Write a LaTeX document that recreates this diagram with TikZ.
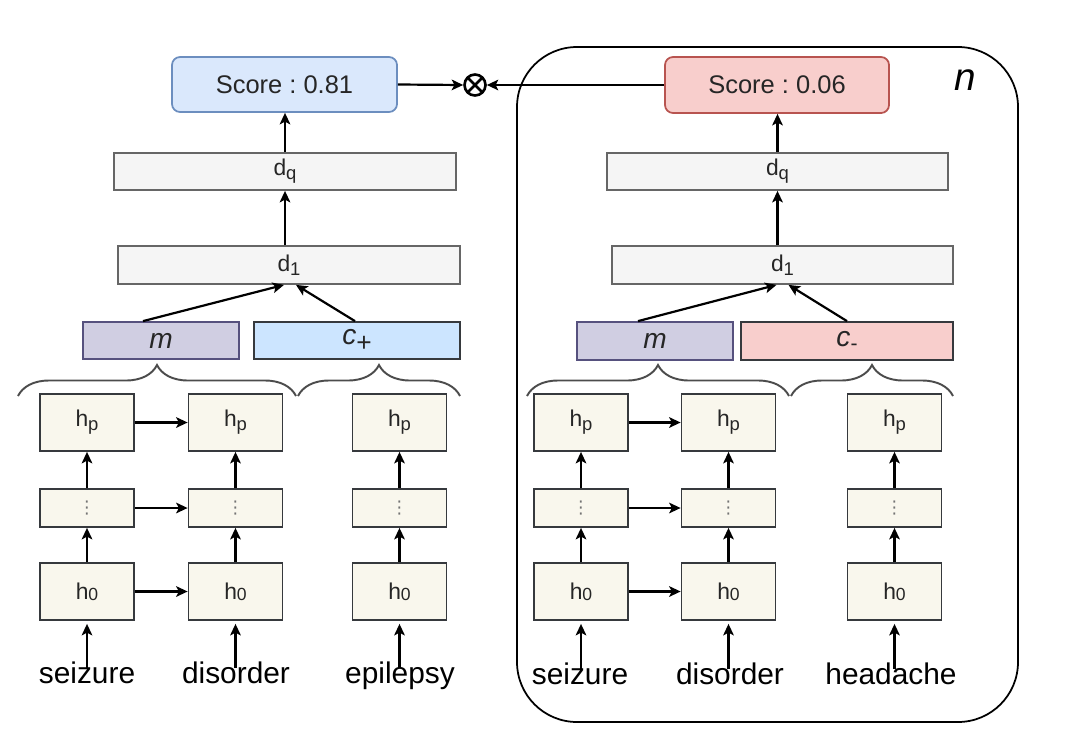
\documentclass[tikz,border=0pt]{standalone}
\usepackage{fontspec}
\setmainfont{Liberation Sans}
\newfontfamily\dejavu{DejaVu Sans}
\usetikzlibrary{arrows.meta,decorations.pathreplacing}
\newlength\pxu \setlength\pxu{0.02cm}
\frenchspacing
\definecolor{scoreB}{HTML}{DAE8FC}\definecolor{scoreBd}{HTML}{6C8EBF}
\definecolor{scoreR}{HTML}{F8CECC}\definecolor{scoreRd}{HTML}{B85450}
\definecolor{dfill}{HTML}{F5F5F5}\definecolor{dline}{HTML}{666666}
\definecolor{mfill}{HTML}{D0CEE2}\definecolor{mline}{HTML}{56517E}
\definecolor{cpfill}{HTML}{CCE5FF}\definecolor{dark}{HTML}{36393D}
\definecolor{hfill}{HTML}{F9F7ED}
\tikzset{
  sz/.style 2 args={minimum width=#1\pxu, minimum height=#2\pxu},
  bx/.style={draw, line width=1pt, inner sep=0pt, text=black!85},
  scorebox/.style={bx, rounded corners=8\pxu, font=\fontsize{14.5}{14.5}\selectfont},
  dbox/.style={bx, fill=dfill, draw=dline, font=\fontsize{13}{13}\selectfont},
  hbox/.style={bx, fill=hfill, draw=dark, sz={94}{57}, font=\fontsize{13}{13}\selectfont},
  dotbox/.style={bx, fill=hfill, draw=dark, sz={94}{38}},
  embox/.style={bx, sz={156}{37}, font=\fontsize{16}{16}\selectfont\itshape},
  word/.style={inner sep=1pt, text height=0.75em, text depth=0.2em, anchor=base, font=\fontsize{17}{17}\selectfont},
  arr/.style={-{Stealth[length=6.5pt,width=6pt,inset=1.5pt]}, line width=1.25pt},
  brc/.style={decorate, decoration={brace, amplitude=31\pxu}, line width=1.1pt, draw=black!70},
}
\newcommand\sub[1]{\raisebox{-0.35ex}{\fontsize{10.5}{10.5}\selectfont #1}}
\newcommand\vd{{\dejavu\color{black!55}\fontsize{10}{10}\selectfont ⋮}}
\newcommand\hz{h\raisebox{-0.1ex}{\fontsize{10}{10}\selectfont 0}}
\begin{document}
\begin{tikzpicture}[x=0.02cm, y=-0.02cm]
\useasboundingbox (0,0) rectangle (1074,754);
% container
\node[draw, line width=1pt, rounded corners=60\pxu, sz={501}{675}] (cont) at (767.5,384.5) {};
\node[font=\fontsize{22}{22}\selectfont\itshape] (n) at (965,80) {n};

% ---------- left ----------
\node[scorebox, fill=scoreB, draw=scoreBd, sz={225}{55}] (sL) at (284.5,84.5) {Score : 0.81};
\node[circle, draw, line width=1.5pt, minimum size=21\pxu, inner sep=0pt,
  path picture={\draw[line width=1.5pt] (path picture bounding box.south west) -- (path picture bounding box.north east)
  (path picture bounding box.north west) -- (path picture bounding box.south east);}] (ox) at (475,85) {};
\node[dbox, sz={342}{37}] (dqL) at (285,171.5) {d\sub{q}};
\node[dbox, sz={342}{38}] (d1L) at (289,265) {d\sub{1}};
\node[embox, fill=mfill, draw=mline] (mL) at (161,340.5) {m};
\node[embox, fill=cpfill, draw=dark, sz={206}{37}] (cL) at (357,340.5) {c\raisebox{-0.5ex}{\fontsize{15}{15}\selectfont\upshape +}};
\draw[brc] (18,396) -- (296,396);
\draw[brc] (298,396) -- (460,396);

\node[hbox] (hpL1) at (87,422.5) {h\sub{p}};
\node[hbox] (hpL2) at (235.5,422.5) {h\sub{p}};
\node[hbox] (hpL3) at (399.5,422.5) {h\sub{p}};
\node[dotbox] (vL1) at (87,508) {\vd};
\node[dotbox] (vL2) at (235.5,508) {\vd};
\node[dotbox] (vL3) at (399.5,508) {\vd};
\node[hbox] (h0L1) at (87,591.5) {\hz};
\node[hbox] (h0L2) at (235.5,591.5) {\hz};
\node[hbox] (h0L3) at (399.5,591.5) {\hz};
\node[word] (wL1) at (87,683) {seizure};
\node[word] (wL2) at (236,683) {disorder};
\node[word] (wL3) at (400,683) {epilepsy};

\draw[arr] (sL.east) -- (ox.west);
\draw[arr] (dqL.north) -- (dqL.north |- sL.south);
\draw[arr] (d1L.north -| dqL.south) -- (dqL.south);
\draw[arr] ([xshift=-18\pxu]mL.north) -- ([xshift=-5\pxu]d1L.south);
\draw[arr] ([xshift=-2\pxu]cL.north) -- ([xshift=7\pxu]d1L.south);
\foreach \i in {1,2,3}{
  \draw[arr] (h0L\i.north) -- (vL\i.south);
  \draw[arr] (vL\i.north) -- (hpL\i.south);
  \draw[arr, shorten >=3\pxu] (h0L\i.south |- wL\i.north) -- (h0L\i.south);
}
\draw[arr] (hpL1.east) -- (hpL2.west);
\draw[arr] (vL1.east) -- (vL2.west);
\draw[arr] (h0L1.east) -- (h0L2.west);

% ---------- right ----------
\node[scorebox, fill=scoreR, draw=scoreRd, sz={224}{56}] (sR) at (777,85) {Score : 0.06};
\node[dbox, sz={341}{37}] (dqR) at (777.5,171.5) {d\sub{q}};
\node[dbox, sz={341}{38}] (d1R) at (782.5,265) {d\sub{1}};
\node[embox, fill=mfill, draw=mline, sz={156}{38}] (mR) at (655,341) {m};
\node[embox, fill=scoreR, draw=dark, sz={212}{38}] (cR) at (847,341) {c\raisebox{-0.3ex}{\fontsize{12}{12}\selectfont\upshape -}};
\draw[brc] (527,396) -- (789,396);
\draw[brc] (791,396) -- (953,396);

\node[hbox] (hpR1) at (581,422.5) {h\sub{p}};
\node[hbox] (hpR2) at (728.5,422.5) {h\sub{p}};
\node[hbox] (hpR3) at (894.5,422.5) {h\sub{p}};
\node[dotbox] (vR1) at (581,508) {\vd};
\node[dotbox] (vR2) at (728.5,508) {\vd};
\node[dotbox] (vR3) at (894.5,508) {\vd};
\node[hbox] (h0R1) at (581,591.5) {\hz};
\node[hbox] (h0R2) at (728.5,591.5) {\hz};
\node[hbox] (h0R3) at (894.5,591.5) {\hz};
\node[word] (wR1) at (580,684) {seizure};
\node[word] (wR2) at (730,684) {disorder};
\node[word] (wR3) at (891,684) {headache};

\draw[arr] (sR.west) -- (ox.east);
\draw[arr] (dqR.north) -- (dqR.north |- sR.south);
\draw[arr] (d1R.north -| dqR.south) -- (dqR.south);
\draw[arr] ([xshift=-17\pxu]mR.north) -- ([xshift=-6\pxu]d1R.south);
\draw[arr] (cR.north) -- ([xshift=6\pxu]d1R.south);
\foreach \i in {1,2,3}{
  \draw[arr] (h0R\i.north) -- (vR\i.south);
  \draw[arr] (vR\i.north) -- (hpR\i.south);
  \draw[arr, shorten >=3\pxu] (h0R\i.south |- wR\i.north) -- (h0R\i.south);
}
\draw[arr] (hpR1.east) -- (hpR2.west);
\draw[arr] (vR1.east) -- (vR2.west);
\draw[arr] (h0R1.east) -- (h0R2.west);
\end{tikzpicture}
\end{document}
